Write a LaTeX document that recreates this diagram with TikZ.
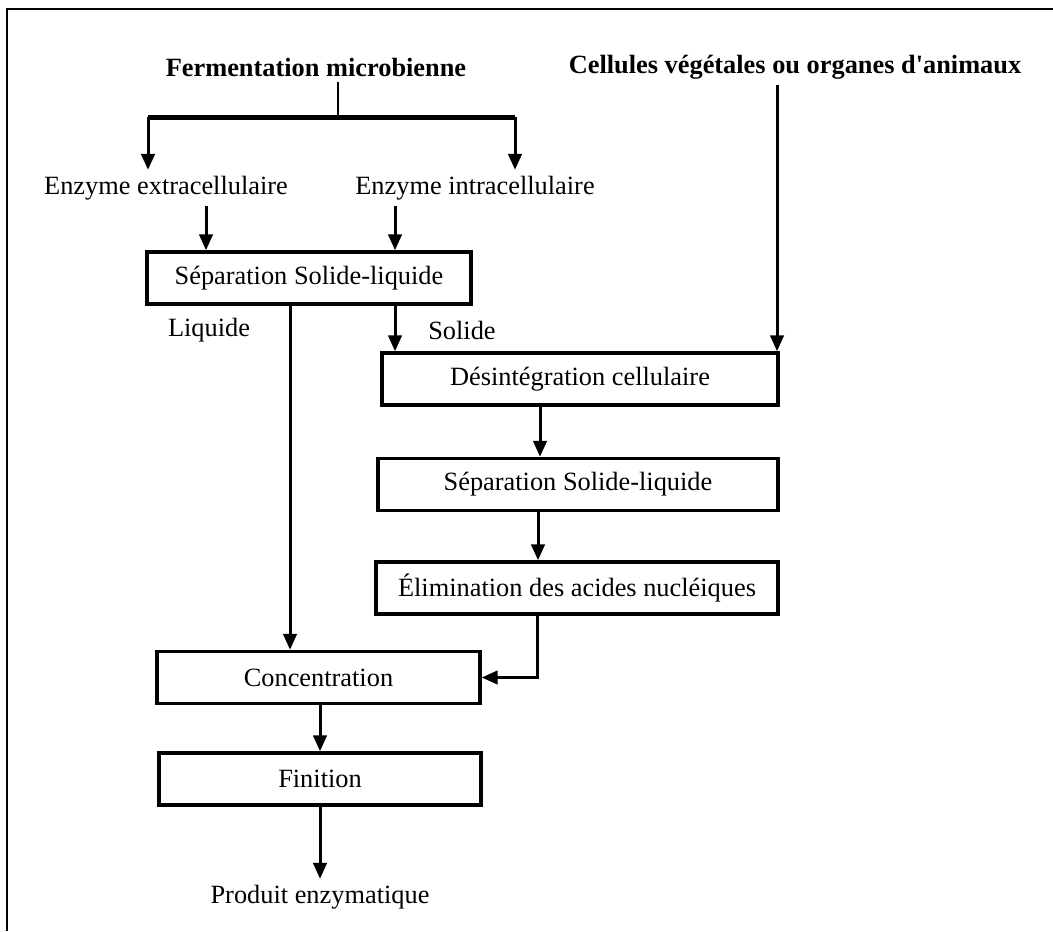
\documentclass[tikz,border=0pt]{standalone}
\usepackage{fontspec}
\setmainfont{Liberation Serif}
\usetikzlibrary{arrows.meta}

\tikzset{
    stepbox/.style={draw, line width=0.07cm, minimum height=1.04cm, inner sep=0pt, font=\fontsize{15}{18}\selectfont},
    lbl/.style={font=\fontsize{15}{18}\selectfont},
    head/.style={font=\fontsize{15}{18}\selectfont\bfseries},
    arr/.style={line width=0.06cm, -{Triangle[length=0.32cm, width=0.27cm]}},
}

\begin{document}
\begin{tikzpicture}[x=0.02cm, y=-0.02cm]
\useasboundingbox (0,0) rectangle (1053,931);
% Frame
\draw[line width=0.04cm] (1053,9) -- (7,9) -- (7,931);

% Sources
\node[head] (ferm) at (316,67) {Fermentation microbienne};
\node[head] (cell) at (795,67) {Cellules végétales ou organes d\textquotesingle animaux};
\node[lbl] (ext) at (166,188) {Enzyme extracellulaire};
\node[lbl] (int) at (475,188) {Enzyme intracellulaire};

% Boxes
\node[stepbox, minimum width=6.48cm] (sep1) at (309,278) {Séparation Solide-liquide};
\node[stepbox, minimum width=7.92cm] (desint) at (580,379) {Désintégration cellulaire};
\node[stepbox, minimum width=8.00cm] (sep2) at (578,484.5) {Séparation Solide-liquide};
\node[stepbox, minimum width=8.04cm] (elim) at (577,588) {Élimination des acides nucléiques};
\node[stepbox, minimum width=6.46cm] (conc) at (318.5,677.5) {Concentration};
\node[stepbox, minimum width=6.44cm] (fini) at (320,779) {Finition};
\node[lbl] (prod) at (320,897) {Produit enzymatique};

% Labels
\node[lbl] (liq) at (209,330) {Liquide};
\node[lbl] (sol) at (462,330) {Solide};

% Split
\coordinate (barL) at (148,117);
\coordinate (barM) at (338,117);
\coordinate (barR) at (515,117);
\draw[line width=0.045cm] (ferm.south -| barM) -- (barM);
\draw[line width=0.1cm] (barL) -- (barR);
\draw[arr] (barL) -- (barL |- ext.north);
\draw[arr] (barR) -- (barR |- int.north);

% Arrows
\foreach \a/\b/\x in {ext/sep1/206, int/sep1/395, sep1/desint/395, sep1/conc/290,
                      desint/sep2/540, sep2/elim/538, conc/fini/320, fini/prod/320}
    \draw[arr] (\x,0 |- \a.south) -- (\x,0 |- \b.north);
\draw[arr] (777,0 |- cell.south) -- (777,0 |- desint.north);
\draw[arr] (537,0 |- elim.south) |- (conc.east);

\end{tikzpicture}
\end{document}
